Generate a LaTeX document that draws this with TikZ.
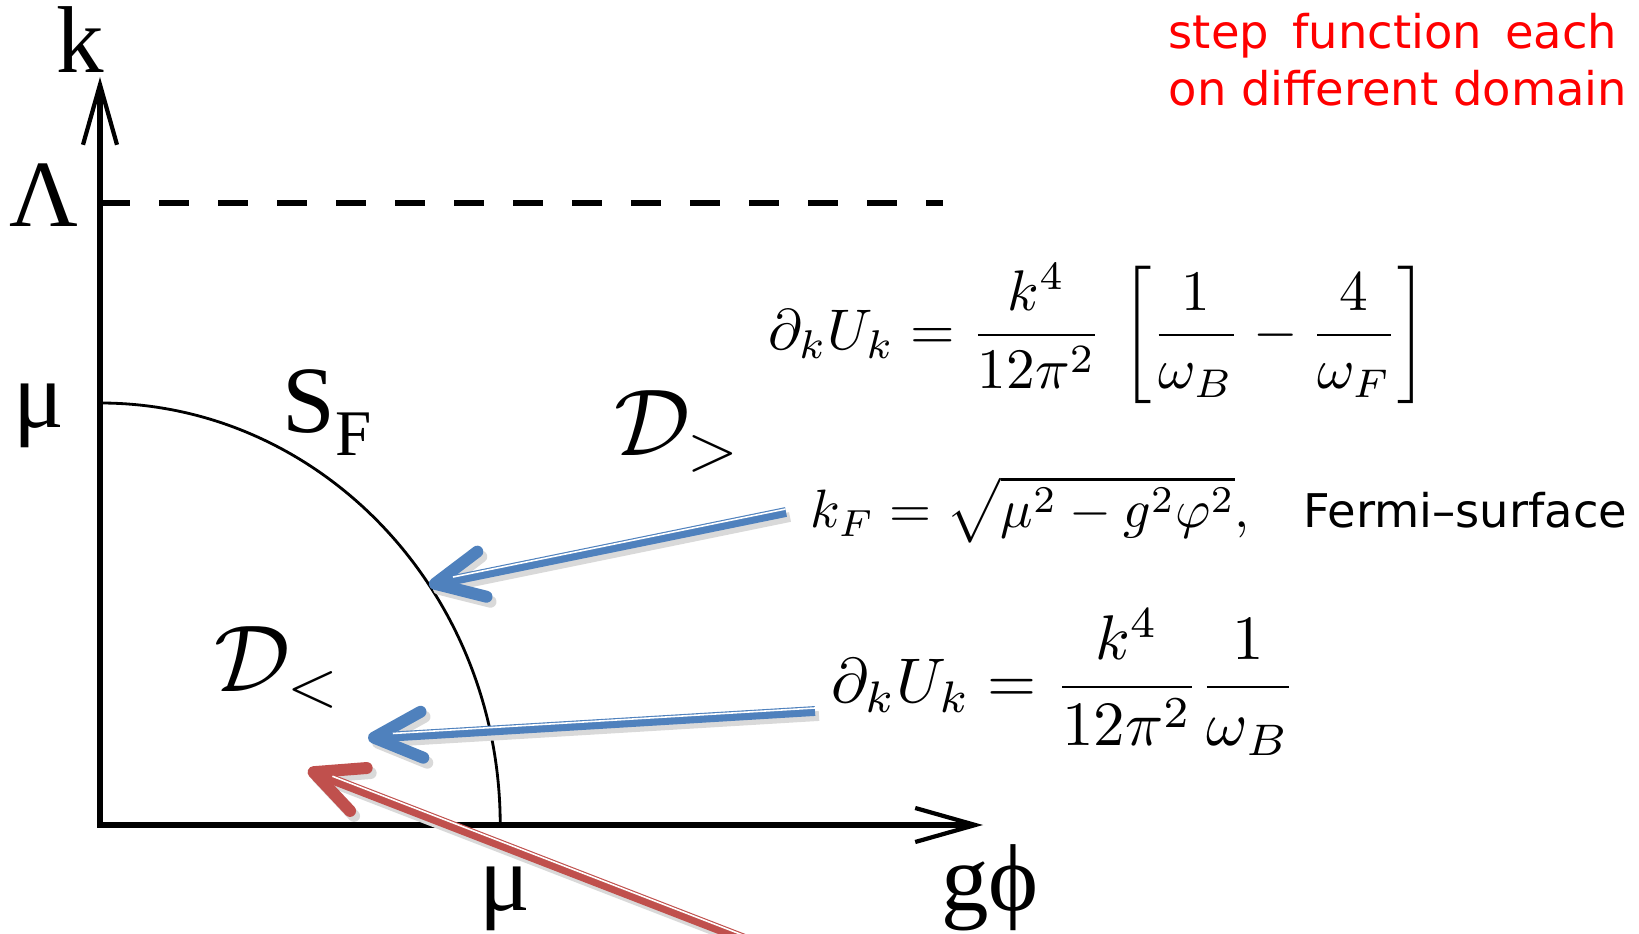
\RequirePackage{fix-cm}
\documentclass[tikz,border=0pt]{standalone}
\usepackage{amsmath,amssymb}
\usepackage{graphicx}
\usepackage{fontspec}
\usetikzlibrary{arrows.meta,calc}
\newfontfamily\lblfont{Liberation Serif}
\newfontfamily\txtfont{DejaVu Sans}
\definecolor{cBlue}{RGB}{79,129,189}
\definecolor{cRed}{RGB}{192,80,77}
\tikzset{
  ax/.style={line width=1.5pt, {Straight Barb[length=0.6cm, width=0.34cm, line width=1.2pt]}-{Straight Barb[length=0.6cm, width=0.34cm, line width=1.2pt]}},
  lbl/.style={font=\fontsize{27}{30}\selectfont\lblfont, inner sep=0pt, anchor=base},
  eq/.style={inner sep=0pt, anchor=west},
  arr/.style={line width=2.8pt, -{Straight Barb[length=0.48cm, width=0.46cm, line width=3.4pt, round]}},
  shd/.style={arr, black!15, transform canvas={shift={(0.04cm,-0.05cm)}}},
  note/.style={font=\fontsize{13.2}{16}\selectfont\txtfont, inner sep=0pt, anchor=base west}
}
\newcommand{\duoarrow}[3]{%
  \draw[shd] (#2) -- (#3);
  \draw[arr, #1] (#2) -- (#3);
  \draw[white, line width=0.45pt, shorten >=0.25cm] ($(#2)!0.03cm!-90:(#3)$) -- ($(#3)!0.03cm!90:(#2)$);}

\begin{document}
\begin{tikzpicture}[x=0.01cm, y=-0.01cm]
  \useasboundingbox (0,0) rectangle (1639,934);
  \clip (0,0) rectangle (1639,934);
  \coordinate (O) at (100,825);
  \coordinate (kTop) at (100,77);
  \coordinate (xEnd) at (983,825);
  \draw[ax] (kTop) -- (O) -- (xEnd);
  \draw[line width=1.7pt, dash pattern=on 0.3cm off 0.29cm] (100,203) -- (943,203);
  \draw[line width=0.8pt] (100,403) arc[start angle=90, end angle=0, x radius=4cm, y radius=4.22cm];

  \node[lbl] (kLab) at (80,73) {k};
  \node[lbl] (lamLab) at (44,227) {Λ};
  \node[lbl] (muK) at (39,428) {μ};
  \node[lbl] (muG) at (505,910) {μ};
  \node[lbl] (gphi) at (990,910) {gϕ};
  \node[lbl, anchor=base west] (sf) at (282,433) {S\raisebox{-0.22cm}{\fontsize{18.5}{20}\selectfont F}};
  \node[lbl, anchor=base west] (dOut) at (614,456) {$\mathcal{D}_{>}$};
  \node[lbl, anchor=base west] (dIn) at (214,692) {$\mathcal{D}_{<}$};

  \node[eq] (eqA) at (768,334) {\resizebox{6.59cm}{!}{$\displaystyle \partial_k U_k = \frac{k^4}{12\pi^2}\,\left[\frac{1}{\omega_B}-\frac{4}{\omega_F}\right]$}};
  \node[eq, anchor=base west] (kf) at (810,528) {\resizebox{4.39cm}{!}{$k_F = \sqrt{\mu^2 - g^2\varphi^2},$}};
  \node[eq] (eqB) at (831,682) {\resizebox{4.65cm}{!}{$\displaystyle \partial_k U_k = \frac{k^4}{12\pi^2}\frac{1}{\omega_B}$}};
  \node[note] (fs) at ($(kf.base east)+(52,0)$) {Fermi–surface};
  \node[note, red] (st1) at (1168,49) {step\hspace{0.5em}function\hspace{0.5em}each};
  \node[note, red] (st2) at ($(st1.base west)+(0,57)$) {on different domain};

  \coordinate (tipSF) at (429,585);
  \coordinate (tipIn) at (368,738);
  \coordinate (tipRd) at (308,770);
  \coordinate (tlSF) at (786,512);
  \coordinate (tlIn) at (815,711);
  \coordinate (tlRd) at (799,960);
  \duoarrow{cBlue}{tlSF}{tipSF}
  \duoarrow{cBlue}{tlIn}{tipIn}
  \duoarrow{cRed}{tlRd}{tipRd}
\end{tikzpicture}
\end{document}
